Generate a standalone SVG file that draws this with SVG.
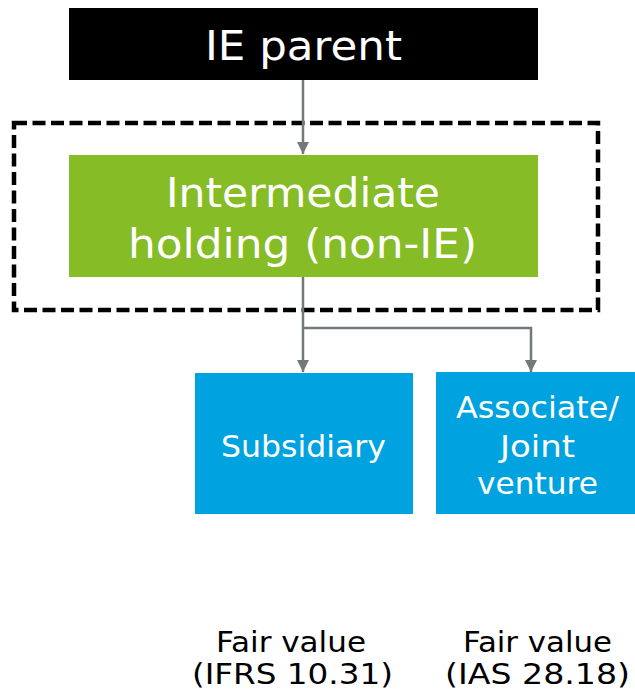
<svg xmlns="http://www.w3.org/2000/svg" width="635" height="697" viewBox="0 0 635 697">
<style>
text{font-family:"DejaVu Sans",Verdana,sans-serif;text-anchor:middle}
.w{fill:#ffffff}
.k{fill:#000000}
.con{stroke:#75787B;stroke-width:2.5;fill:none}
</style>
<defs>
<marker id="ah" viewBox="0 0 10 10" refX="10" refY="5" markerWidth="5" markerHeight="5" markerUnits="strokeWidth" orient="auto">
<path d="M0,0 L10,5 L0,10 z" fill="#75787B"/>
</marker>
</defs>
<rect x="14" y="123" width="584" height="187" fill="none" stroke="#000" stroke-width="4.5" stroke-dasharray="13 5.5"/>
<g id="connectors">
<path class="con" d="M303,80 V154" marker-end="url(#ah)"/>
<path class="con" d="M303,277 V372" marker-end="url(#ah)"/>
<path class="con" d="M303,328 H531 V372" marker-end="url(#ah)"/>
</g>
<g id="ie-parent">
<rect x="69" y="8" width="469" height="72" fill="#000"/>
<text class="w" x="303.5" y="60" font-size="41" textLength="197" lengthAdjust="spacingAndGlyphs">IE parent</text>
</g>
<g id="intermediate">
<rect x="69" y="155" width="469" height="122" fill="#86BC25"/>
<text class="w" x="303" y="207" font-size="41" textLength="274" lengthAdjust="spacingAndGlyphs">Intermediate</text>
<text class="w" x="302.5" y="258" font-size="41" textLength="349" lengthAdjust="spacingAndGlyphs">holding (non-IE)</text>
</g>
<g id="subsidiary">
<rect x="195" y="373" width="218" height="141" fill="#00A3E0"/>
<text class="w" x="303.5" y="457" font-size="31" textLength="165" lengthAdjust="spacingAndGlyphs">Subsidiary</text>
</g>
<g id="associate">
<rect x="436" y="372" width="199" height="142" fill="#00A3E0"/>
<text class="w" x="537.5" y="418" font-size="31" textLength="163" lengthAdjust="spacingAndGlyphs">Associate/</text>
<text class="w" x="537.5" y="457" font-size="31" textLength="75" lengthAdjust="spacingAndGlyphs">Joint</text>
<text class="w" x="537.5" y="494" font-size="31" textLength="121" lengthAdjust="spacingAndGlyphs">venture</text>
</g>
<g id="fv-subsidiary">
<text class="k" x="291" y="652" font-size="29" textLength="150" lengthAdjust="spacingAndGlyphs">Fair value</text>
<text class="k" x="292.5" y="684" font-size="29" textLength="201" lengthAdjust="spacingAndGlyphs">(IFRS 10.31)</text>
</g>
<g id="fv-associate">
<text class="k" x="537.5" y="652" font-size="29" textLength="149" lengthAdjust="spacingAndGlyphs">Fair value</text>
<text class="k" x="537.5" y="684" font-size="29" textLength="185" lengthAdjust="spacingAndGlyphs">(IAS 28.18)</text>
</g>
</svg>
